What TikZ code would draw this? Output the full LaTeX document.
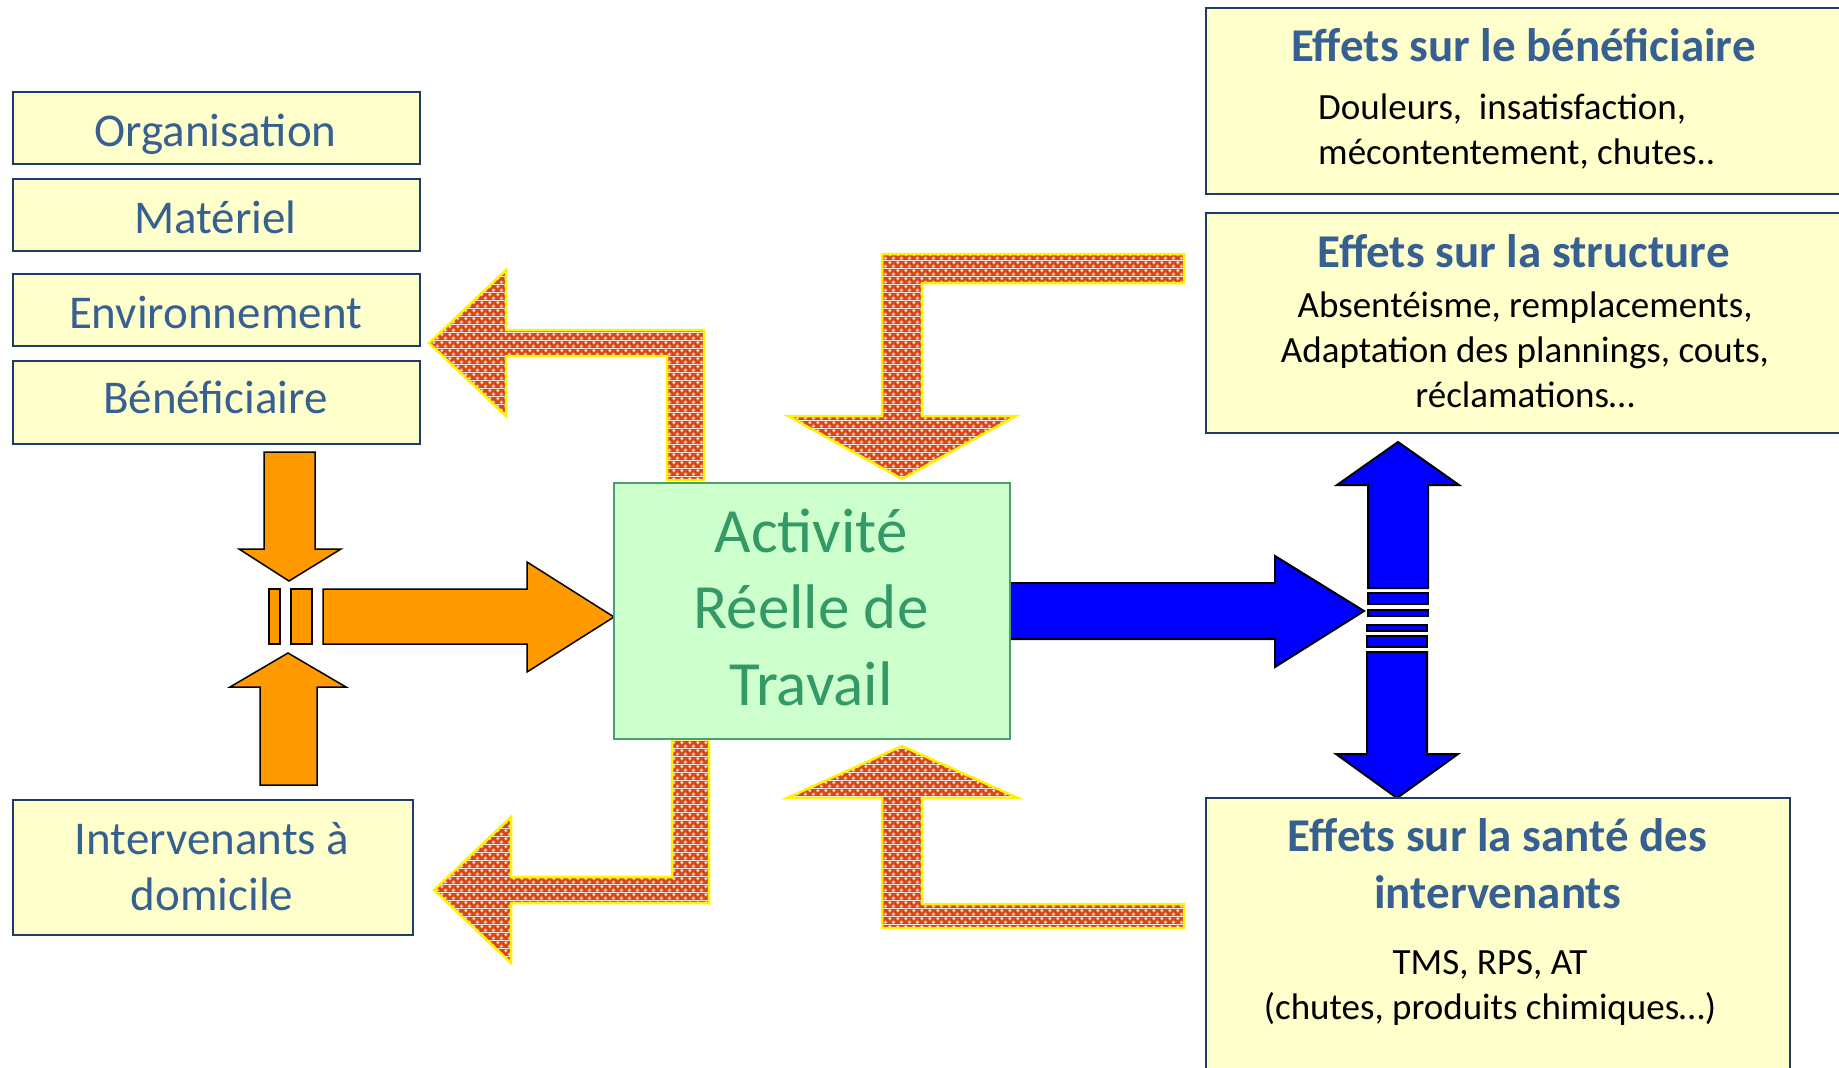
\documentclass[tikz,border=0pt]{standalone}
\usepackage{fontspec}
\setmainfont{Carlito}
\usetikzlibrary{patterns.meta}
\definecolor{boxfill}{HTML}{FFFFCC}
\definecolor{boxline}{HTML}{1F3B66}
\definecolor{lbltext}{HTML}{376092}
\definecolor{actfill}{HTML}{CCFFCC}
\definecolor{actline}{HTML}{4A9E72}
\definecolor{acttext}{HTML}{339966}
\definecolor{orangefill}{HTML}{FF9900}
\definecolor{bluefill}{HTML}{0000FF}
\definecolor{spotred}{HTML}{DA4514}
\definecolor{spotpink}{HTML}{F3AE92}
\definecolor{spotwhite}{HTML}{FFF2EA}
\tikzdeclarepattern{
  name=redspots,
  type=colored,
  bottom left={(0pt,0pt)},
  top right={(8pt,8pt)},
  tile size={(8pt,8pt)},
  code={
    \fill[spotred] (0pt,0pt) rectangle (8pt,8pt);
    \fill[spotpink] (6pt,2pt) circle (2.1pt);
    \fill[spotpink] (2pt,6pt) circle (2.1pt);
    \fill[spotwhite] (6pt,2pt) circle (0.8pt);
    \fill[spotwhite] (2pt,6pt) circle (0.8pt);
  }
}
\begin{document}
\begin{tikzpicture}[x=1pt,y=-1pt,
  ybox/.style={draw=boxline, line width=2pt, fill=boxfill, anchor=north west, inner sep=0pt},
  actbox/.style={draw=actline, line width=2pt, fill=actfill, anchor=north west, inner sep=0pt},
  biglbl/.style={anchor=base, text=lbltext, font=\fontsize{47}{56}\selectfont, inner sep=0pt},
  actlbl/.style={anchor=base, text=acttext, font=\fontsize{63}{76}\selectfont, inner sep=0pt},
  ttl/.style={anchor=base, text=lbltext, font=\bfseries\fontsize{47}{57}\selectfont, inner sep=0pt},
  bodytxt/.style={anchor=base, text=black, font=\fontsize{37}{45}\selectfont, inner sep=0pt},
  redarrow/.style={pattern=redspots, draw=yellow, line width=2.5pt, line join=miter},
  oarrow/.style={fill=orangefill, draw=black, line width=1.5pt, line join=miter},
  barrow/.style={fill=bluefill, draw=black, line width=2pt, line join=miter}]
\useasboundingbox (0,0) rectangle (1839,1068);
\fill[white] (0,0) rectangle (1839,1068);

% red patterned arrows
\path[redarrow] (667,480) -- (667,356) -- (506,356) -- (506,416) -- (429,343) -- (506,270) -- (506,330) -- (704,330) -- (704,480) -- cycle;
\path[redarrow] (1184,254) -- (882,254) -- (882,416) -- (788,416) -- (902,479) -- (1016,416) -- (922,416) -- (922,283) -- (1184,283) -- cycle;
\path[redarrow] (672,739) -- (709,739) -- (709,903) -- (511,903) -- (511,963) -- (434,890) -- (511,817) -- (511,877) -- (672,877) -- cycle;
\path[redarrow] (902,746) -- (1018,798) -- (922,798) -- (922,904) -- (1184,904) -- (1184,928) -- (882,928) -- (882,798) -- (787,798) -- cycle;

% orange arrows
\path[oarrow] (264,452) -- (315,452) -- (315,549) -- (341,549) -- (289,581) -- (239,549) -- (264,549) -- cycle;
\path[oarrow] (288,653) -- (346,687) -- (317,687) -- (317,785) -- (260,785) -- (260,687) -- (230,687) -- cycle;
\path[oarrow] (269,589) rectangle (280,644);
\path[oarrow] (291,589) rectangle (312,644);
\path[oarrow] (323,589) -- (527,589) -- (527,562) -- (614,617) -- (527,672) -- (527,644) -- (323,644) -- cycle;

% blue arrows
\path[barrow] (1008,583) -- (1275,583) -- (1275,556) -- (1364,611) -- (1275,667) -- (1275,639) -- (1008,639) -- cycle;
\path[barrow] (1398,442) -- (1459,485) -- (1428,485) -- (1428,588) -- (1368,588) -- (1368,485) -- (1337,485) -- cycle;
\path[barrow] (1368,593) rectangle (1428,604);
\path[barrow] (1368,609.5) rectangle (1428,615.5);
\path[barrow] (1367,624.5) rectangle (1427,630.5);
\path[barrow] (1367,636) rectangle (1427,647);
\path[barrow] (1367,652) -- (1427,652) -- (1427,754) -- (1458,754) -- (1397,798) -- (1336,754) -- (1367,754) -- cycle;

% boxes
\node[ybox, minimum width=407pt, minimum height=72pt] (org) at (12,91) {};
\node[ybox, minimum width=407pt, minimum height=72pt] (mat) at (12,178) {};
\node[ybox, minimum width=407pt, minimum height=72pt] (env) at (12,273) {};
\node[ybox, minimum width=407pt, minimum height=83pt] (ben) at (12,360) {};
\node[ybox, minimum width=400pt, minimum height=135pt] (int) at (12,799) {};
\node[actbox, minimum width=396pt, minimum height=256pt] (act) at (613,482) {};
\node[ybox, minimum width=700pt, minimum height=186pt] (eben) at (1205,7) {};
\node[ybox, minimum width=700pt, minimum height=220pt] (estr) at (1205,212) {};
\node[ybox, minimum width=584pt, minimum height=320pt] (esan) at (1205,797) {};

% left labels
\node[biglbl] (torg) at (215.5,146) {Organisation};
\node[biglbl] (tmat) at (215.5,233) {Matériel};
\node[biglbl] (tenv) at (215.5,328) {Environnement};
\node[biglbl] (tben) at (215.5,413) {Bénéficiaire};
\node[biglbl] (tint1) at (212,854) {Intervenants à};
\node[biglbl] (tint2) at (212,910) {domicile};

% centre
\node[actlbl] (tact1) at (811,552) {Activité};
\node[actlbl] (tact2) at (811,628) {Réelle de};
\node[actlbl] (tact3) at (811,705) {Travail};

% right boxes
\node[ttl] (teben) at (1523.5,61.5) {Effets sur le bénéficiaire};
\node[bodytxt, anchor=base west] (beben1) at (1318,119) {Douleurs,~~insatisfaction,};
\node[bodytxt, anchor=base west] (beben2) at (1318,164) {mécontentement, chutes..};

\node[ttl] (testr) at (1523.5,267.5) {Effets sur la structure};
\node[bodytxt] (bestr1) at (1525,317.5) {Absentéisme, remplacements,};
\node[bodytxt] (bestr2) at (1525,362.5) {Adaptation des plannings, couts,};
\node[bodytxt] (bestr3) at (1525,407) {réclamations…};

\node[ttl] (tesan1) at (1497.5,851.5) {Effets sur la santé des};
\node[ttl] (tesan2) at (1497.5,908.5) {intervenants};
\node[bodytxt] (besan1) at (1490,974) {TMS, RPS, AT};
\node[bodytxt] (besan2) at (1490,1019) {(chutes, produits chimiques…)};
\end{tikzpicture}
\end{document}
